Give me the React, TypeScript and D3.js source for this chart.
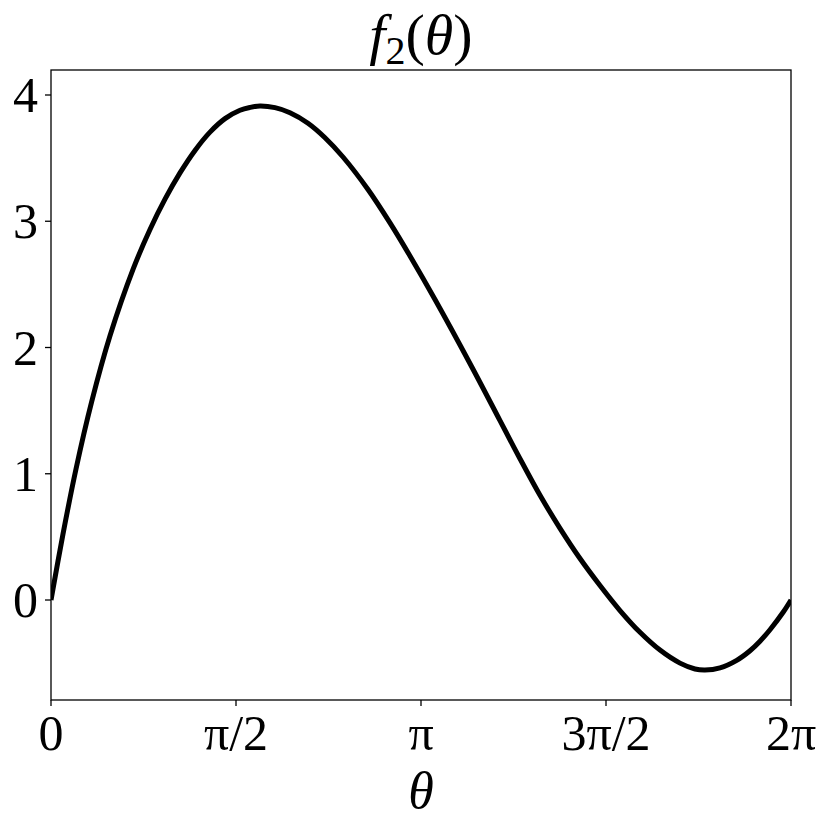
import React from "react";
import * as d3 from "d3";

const thetaValues = [
  0, 0.1019, 0.2123, 0.3439, 0.501, 0.6988, 0.8406, 0.968, 1.0953, 1.2227, 1.35,
  1.4774, 1.6048, 1.6897, 1.7746, 1.9019, 2.0293, 2.1821, 2.3265, 2.4793, 2.6916,
  2.8784, 3.0482, 3.2605, 3.5721, 3.8124, 3.9822, 4.1521, 4.3219, 4.4917, 4.6615,
  4.8313, 5.0011, 5.1709, 5.3407, 5.4681, 5.553, 5.6804, 5.8222, 5.9351, 6.02,
  6.1049, 6.2178, 6.2832,
];
const fValues = [
  0, 0.5228, 1.0376, 1.5651, 2.0927, 2.6242, 2.9347, 3.1747, 3.383, 3.5612, 3.7061,
  3.8131, 3.8796, 3.9018, 3.9129, 3.8998, 3.8598, 3.7766, 3.6618, 3.5089, 3.2515,
  2.9869, 2.7248, 2.3802, 1.8479, 1.421, 1.1192, 0.8293, 0.5679, 0.3287, 0.1149,
  -0.0832, -0.2558, -0.3968, -0.4998, -0.5461, -0.5545, -0.537, -0.4776, -0.4016,
  -0.3263, -0.2352, -0.095, 0,
];

const xTickValues = [0, Math.PI / 2, Math.PI, (3 * Math.PI) / 2, 2 * Math.PI];
const xTickLabels = ["0", "π/2", "π", "3π/2", "2π"];
const yTickValues = [0, 1, 2, 3, 4];
const yTickLabels = ["0", "1", "2", "3", "4"];

const W = 830;
const H = 837;
const left = 51;
const right = 791;
const top = 70;
const bottom = 700;

export default function App() {
  const x = d3.scaleLinear().domain([0, 2 * Math.PI]).range([left, right]);
  const y = d3.scaleLinear().domain([-0.792, 4.198]).range([bottom, top]);
  const pts = thetaValues.map((t, i) => [t, fValues[i]] as [number, number]);
  const line = d3
    .line<[number, number]>()
    .x((d) => x(d[0]))
    .y((d) => y(d[1]))
    .curve(d3.curveCatmullRom.alpha(0.5));
  const font = "'Liberation Serif', 'DejaVu Serif', serif";
  return (
    <svg
      width={W}
      height={H}
      style={{ position: "absolute", left: 0, top: 0, background: "#fff" }}
    >
      <rect x={0} y={0} width={W} height={H} fill="#fff" />
      <defs>
        <clipPath id="plot">
          <rect x={left} y={top} width={right - left} height={bottom - top} />
        </clipPath>
      </defs>
      <path
        d={line(pts) || ""}
        fill="none"
        stroke="#000"
        strokeWidth={5}
        strokeLinejoin="round"
        clipPath="url(#plot)"
      />
      <rect
        x={left}
        y={top}
        width={right - left}
        height={bottom - top}
        fill="none"
        stroke="#000"
        strokeWidth={1.3}
      />
      {xTickValues.map((v, i) => (
        <g key={"x" + i}>
          <line x1={x(v)} x2={x(v)} y1={bottom} y2={bottom + 6} stroke="#000" strokeWidth={1.3} />
          <text
            x={x(v)}
            y={750}
            textAnchor="middle"
            fontFamily={font}
            fontSize={50}
            fill="#000"
          >
            {xTickLabels[i]}
          </text>
        </g>
      ))}
      {yTickValues.map((v, i) => (
        <g key={"y" + i}>
          <line x1={left - 6} x2={left} y1={y(v)} y2={y(v)} stroke="#000" strokeWidth={1.3} />
          <text
            x={38}
            y={y(v) + 17}
            textAnchor="end"
            fontFamily={font}
            fontSize={50}
            fill="#000"
          >
            {yTickLabels[i]}
          </text>
        </g>
      ))}
      <text
        x={421}
        y={808}
        textAnchor="middle"
        fontFamily={font}
        fontStyle="italic"
        fontSize={52}
        fill="#000"
      >
        θ
      </text>
      <text x={421} y={54} textAnchor="middle" fontFamily={font} fontSize={58} fill="#000">
        <tspan fontStyle="italic">f</tspan>
        <tspan fontSize={40} dy={10}>2</tspan>
        <tspan dy={-10}>(</tspan>
        <tspan fontStyle="italic">θ</tspan>
        <tspan>)</tspan>
      </text>
    </svg>
  );
}
